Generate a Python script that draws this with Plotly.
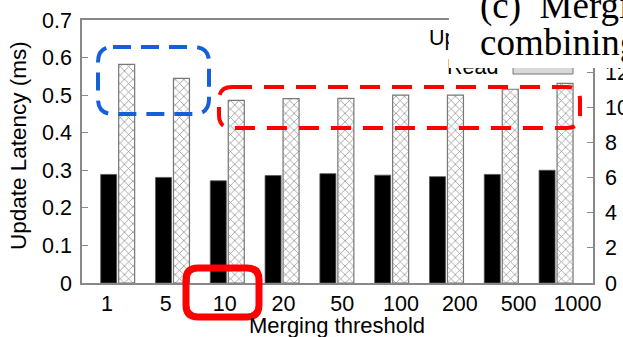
import plotly.graph_objects as go

# ---- data ----
thresholds = ["1", "5", "10", "20", "50", "100", "200", "500", "1000"]
update_ms = [0.289, 0.281, 0.272, 0.286, 0.291, 0.287, 0.283, 0.289, 0.300]   # left axis
read_ms = [12.47, 11.67, 10.42, 10.51, 10.53, 10.72, 10.72, 11.05, 11.39]     # right axis
left_ticks = [0, 0.1, 0.2, 0.3, 0.4, 0.5, 0.6, 0.7]
right_ticks = [0, 2, 4, 6, 8, 10, 12, 14]

W, H = 623, 337
L, R, T, B = 82, 30, 20, 54
PW, PH = W - L - R, H - T - B

def px(x):
    return (x - L) / PW

def py(y):
    return (H - B - y) / PH

idx = list(range(len(thresholds)))
BW = 0.292
label_step = 1.073

fig = go.Figure()
fig.add_trace(go.Bar(
    x=idx, y=update_ms, width=BW, offset=-BW / 2, name="Update",
    marker=dict(color="black", line=dict(color="#555", width=0.8)),
    yaxis="y", showlegend=False))
fig.add_trace(go.Bar(
    x=idx, y=read_ms, width=BW, offset=BW / 2 + 0.036, name="Read",
    marker=dict(color="white", line=dict(color="#777", width=1.2),
                pattern=dict(shape="x", size=6, solidity=0.22, fgcolor="#111", bgcolor="white")),
    yaxis="y2", showlegend=False))

axfont = dict(family="Liberation Sans, Arial, sans-serif", size=21.5, color="black")

fig.update_layout(
    width=W, height=H, margin=dict(l=L, r=R, t=T, b=B, autoexpand=False),
    plot_bgcolor="white", paper_bgcolor="white", barmode="overlay",
    xaxis=dict(range=[-0.487, 8.838], tickvals=[i * label_step - 0.03 for i in idx],
               ticktext=thresholds, showgrid=False, zeroline=False, ticks="",
               showline=True, linecolor="#888", linewidth=1.5, mirror=True,
               tickfont=axfont, fixedrange=True),
    yaxis=dict(range=[0, 0.7], tickvals=left_ticks, ticks="inside", ticklen=6,
               tickcolor="#888", showgrid=False, zeroline=False, showline=True,
               linecolor="#888", linewidth=1.5, tickfont=axfont, ticklabelstandoff=4),
    yaxis2=dict(range=[0, 15], tickvals=right_ticks, overlaying="y", side="right",
                ticks="inside", ticklen=6, tickcolor="#888", showgrid=False,
                zeroline=False, showline=True, linecolor="#888", linewidth=1.5,
                tickfont=axfont, ticklabelstandoff=6),
)

def rrect(x0, y0, x1, y1, r):
    rx, ry = r, r
    pts = [
        ("M", [(x0 + rx, y0)]), ("L", [(x1 - rx, y0)]), ("Q", [(x1, y0), (x1, y0 + ry)]),
        ("L", [(x1, y1 - ry)]), ("Q", [(x1, y1), (x1 - rx, y1)]), ("L", [(x0 + rx, y1)]),
        ("Q", [(x0, y1), (x0, y1 - ry)]), ("L", [(x0, y0 + ry)]), ("Q", [(x0, y0), (x0 + rx, y0)]),
    ]
    s = ""
    for cmd, ps in pts:
        s += cmd + " ".join(f"{px(a):.5f},{py(b):.5f}" for a, b in ps) + " "
    return s + "Z"

shapes = [
    dict(type="path", xref="paper", yref="paper", path=rrect(98, 47, 209, 114, 15),
         line=dict(color="#1560D8", width=4, dash="18px,10px")),
    dict(type="path", xref="paper", yref="paper", path=rrect(219, 87, 580, 128, 13),
         line=dict(color="#FF0000", width=4, dash="20px,12px")),
    dict(type="path", xref="paper", yref="paper", path=rrect(186, 268, 259, 317, 12),
         line=dict(color="#FF0000", width=7)),
    # legend samples
    dict(type="rect", xref="paper", yref="paper", x0=px(513), x1=px(573), y0=py(31), y1=py(45),
         fillcolor="black", line=dict(color="#555", width=1)),
    dict(type="rect", xref="paper", yref="paper", x0=px(513), x1=px(573), y0=py(61), y1=py(74),
         fillcolor="#d9d9d9", line=dict(color="#777", width=1)),
]
fig.update_layout(shapes=shapes)

ann = [
    dict(text="Update Latency (ms)", xref="paper", yref="paper", x=px(18), y=py(146),
         textangle=-90, showarrow=False, font=dict(family=axfont["family"], size=22.5, color="black"),
         xanchor="center", yanchor="middle"),
    dict(text="Merging threshold", xref="paper", yref="paper", x=px(337), y=py(325),
         showarrow=False, font=dict(family=axfont["family"], size=22, color="black"),
         xanchor="center", yanchor="middle"),
    dict(text="Update", xref="paper", yref="paper", x=px(500), y=py(38), showarrow=False,
         font=axfont, xanchor="right", yanchor="middle"),
    dict(text="Read", xref="paper", yref="paper", x=px(500), y=py(67), showarrow=False,
         font=axfont, xanchor="right", yanchor="middle"),
    # white cover box
    dict(text=" ", xref="paper", yref="paper", x=px(449), y=py(0), showarrow=False,
         xanchor="left", yanchor="top", width=180, height=68, bgcolor="white", borderpad=0,
         borderwidth=0),
    dict(text="(c)  Merging", xref="paper", yref="paper", x=px(478), y=py(6), showarrow=False,
         font=dict(family="Liberation Serif, Times New Roman, serif", size=37, color="black"),
         xanchor="left", yanchor="middle"),
    dict(text="combining", xref="paper", yref="paper", x=px(478), y=py(43), showarrow=False,
         font=dict(family="Liberation Serif, Times New Roman, serif", size=37, color="black"),
         xanchor="left", yanchor="middle"),
]
fig.update_layout(annotations=ann)

fig.write_html("out.html", config=dict(displayModeBar=False))
